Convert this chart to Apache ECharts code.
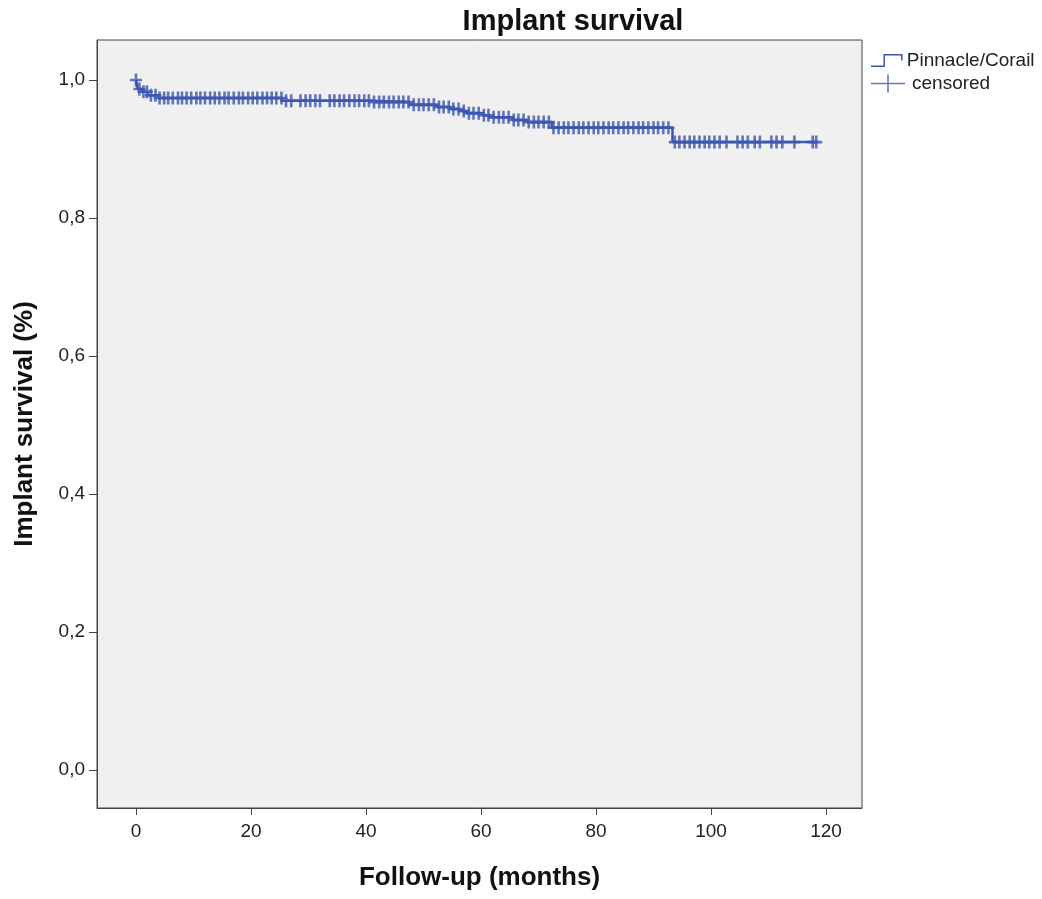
<!DOCTYPE html>
<html>
<head>
<meta charset="utf-8">
<script src="https://cdn.jsdelivr.net/npm/echarts@6/dist/echarts.min.js"></script>
<style>
  html, body { margin: 0; padding: 0; background: #fff; }
  #chart { width: 1042px; height: 899px; }
</style>
</head>
<body>
<div id="chart"></div>
<script>
// Kaplan-Meier steps: time of event (months) and survival after it
const eventTimes = [0, 0.3, 1.0, 2.0, 4.0, 25.4, 41.0, 47.6, 52.3, 54.6, 56.3, 57.5, 60.3, 61.5, 65.5, 68.0, 72.3, 93.3, 118.3]
const survivalValues = [1.0, 0.987, 0.983, 0.978, 0.974, 0.970, 0.968, 0.964, 0.961, 0.958, 0.955, 0.952, 0.949, 0.946, 0.942, 0.939, 0.931, 0.910, 0.910]

// censored observations (months)
const censorTimes = [
  0, 0.6, 1.3, 1.9, 2.6, 3.4, 4.1, 4.9, 5.6, 6.4, 7.3, 8.0, 8.8, 9.6, 10.5, 11.2, 12.0, 12.9, 13.7, 14.5,
  15.4, 16.1, 17.0, 17.9, 18.6, 19.5, 20.3, 21.1, 22.0, 22.8, 23.6, 24.4, 25.3, 26.1, 27.0, 28.6, 29.5,
  30.3, 31.2, 32.0, 33.7, 34.5, 35.4, 36.2, 37.1, 38.0, 38.8, 39.7, 40.5, 41.4, 42.3, 43.1, 44.0, 44.8,
  45.7, 46.5, 47.4, 48.3, 49.2, 50.0, 50.9, 51.8, 52.7, 53.5, 54.4, 55.2, 56.1, 57.0, 57.9, 58.7, 59.6,
  60.5, 61.3, 62.2, 63.1, 63.9, 64.8, 65.7, 66.5, 67.4, 68.3, 69.2, 70.0, 70.9, 71.8, 72.6, 73.5, 74.4,
  75.2, 76.1, 77.0, 77.8, 78.7, 79.6, 80.4, 81.3, 82.2, 83.0, 83.9, 84.8, 85.6, 86.5, 87.4, 88.2, 89.1,
  90.0, 90.8, 91.7, 92.6,
  93.7, 94.5, 95.4, 96.3, 97.1, 98.0, 98.9, 99.7, 100.6, 101.5, 102.7, 104.6, 105.5, 106.4, 107.6,
  108.5, 110.5, 111.4, 112.4, 114.5, 117.7, 118.3
]

const xTicks = [0, 20, 40, 60, 80, 100, 120]
const yTicks = [0, 0.2, 0.4, 0.6, 0.8, 1.0]

const lineColor = '#3d56b0'
const font = '"Liberation Sans", Arial, sans-serif'

function survivalAt(t) {
  let s = survivalValues[0]
  for (let i = 0; i < eventTimes.length; i++) {
    if (eventTimes[i] <= t) s = survivalValues[i]
  }
  return s
}

const stepIcon = 'path://M0,12.4 L13.4,12.4 L13.4,0 L34,0 L34,7 L32.4,7 L32.4,1.6 L15,1.6 L15,14 L0,14 Z'
const crossIcon = 'path://M0,8.2 H16.2 V0 H17.8 V8.2 H34 V9.8 H17.8 V18 H16.2 V9.8 H0 Z'
const plusMark = 'path://M4.7,0 H7.3 V5.2 H12 V7.8 H7.3 V13 H4.7 V7.8 H0 V5.2 H4.7 Z'

const chart = echarts.init(document.getElementById('chart'))

chart.setOption({
  animation: false,
  backgroundColor: '#ffffff',
  title: {
    text: 'Implant survival',
    left: 568,
    top: 2,
    textAlign: 'center',
    textStyle: {fontFamily: font, fontSize: 29, fontWeight: 'bold', color: '#111'}
  },
  legend: [
    {
      data: [{name: 'Pinnacle/Corail', icon: stepIcon}],
      left: 866,
      top: 46,
      itemWidth: 34,
      itemHeight: 13,
      itemGap: 3,
      selectedMode: false,
      textStyle: {fontFamily: font, fontSize: 19, color: '#222', padding: [0, 0, 0, -2]}
    },
    {
      data: [{name: 'censored', icon: crossIcon}],
      left: 866,
      top: 69,
      itemWidth: 34,
      itemHeight: 18,
      selectedMode: false,
      textStyle: {fontFamily: font, fontSize: 19, color: '#222', padding: [0, 0, 0, 2]}
    }
  ],
  grid: {
    show: true,
    left: 97,
    right: 180,
    top: 40,
    bottom: 91,
    backgroundColor: '#f0f0f0',
    borderColor: '#444',
    borderWidth: 1
  },
  xAxis: {
    type: 'value',
    min: -6.78,
    max: 126.26,
    name: 'Follow-up (months)',
    nameLocation: 'middle',
    nameGap: 57,
    nameTextStyle: {fontFamily: font, fontSize: 26, fontWeight: 'bold', color: '#111'},
    axisLine: {show: true, onZero: false, lineStyle: {color: '#444', width: 1}},
    axisTick: {show: true, length: 7, customValues: xTicks, lineStyle: {color: '#444'}},
    axisLabel: {
      customValues: xTicks,
      margin: 14,
      fontFamily: font,
      fontSize: 19,
      color: '#222'
    },
    splitLine: {show: false}
  },
  yAxis: {
    type: 'value',
    min: -0.055,
    max: 1.058,
    name: 'Implant survival (%)',
    nameLocation: 'middle',
    nameGap: 59,
    nameTextStyle: {fontFamily: font, fontSize: 26, fontWeight: 'bold', color: '#111'},
    axisLine: {show: true, onZero: false, lineStyle: {color: '#444', width: 1}},
    axisTick: {show: true, length: 8, customValues: yTicks, lineStyle: {color: '#444'}},
    axisLabel: {
      customValues: yTicks,
      margin: 12,
      fontFamily: font,
      fontSize: 19,
      color: '#222',
      formatter: v => v.toFixed(1).replace('.', ',')
    },
    splitLine: {show: false}
  },
  series: [
    {
      name: 'Pinnacle/Corail',
      type: 'line',
      step: 'end',
      showSymbol: false,
      color: lineColor,
      lineStyle: {color: lineColor, width: 2.5},
      data: eventTimes.map((t, i) => [t, survivalValues[i]])
    },
    {
      name: 'censored',
      type: 'scatter',
      symbol: plusMark,
      symbolSize: [12, 13],
      color: lineColor,
      itemStyle: {color: lineColor},
      data: censorTimes.map(t => [t, survivalAt(t)])
    }
  ]
})
</script>
</body>
</html>
